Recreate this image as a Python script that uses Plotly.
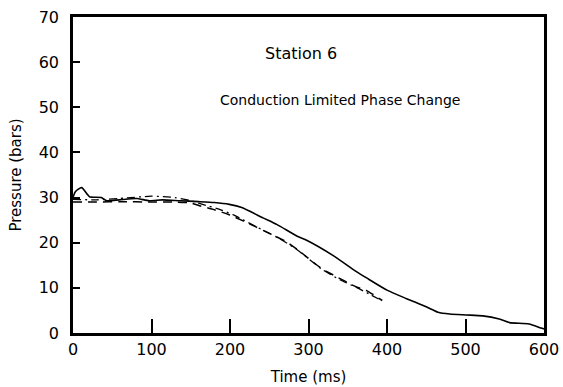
import plotly.graph_objects as go

# Solid curve (measured)
t_solid = [0, 3, 11, 21, 36, 43, 59, 81, 97, 114, 136, 160, 180, 199, 215, 242, 260, 285, 297, 331, 361, 374, 400, 425, 450, 465, 480, 501, 522, 543, 556, 581, 596, 600]
p_solid = [30.0, 31.3, 32.2, 30.2, 30.0, 29.3, 29.5, 29.8, 29.3, 29.5, 29.3, 29.1, 28.9, 28.5, 27.8, 25.5, 24.0, 21.5, 20.6, 17.2, 13.6, 12.2, 9.5, 7.6, 5.8, 4.6, 4.2, 4.0, 3.8, 3.1, 2.3, 2.0, 1.1, 0.9]

# Dashed curve
t_dash = [0, 30, 60, 100, 130, 150, 161, 180, 199, 233, 246, 272, 288, 318, 331, 361, 374, 394]
p_dash = [29.0, 29.0, 29.1, 29.0, 29.0, 28.8, 28.2, 27.3, 26.2, 23.5, 22.4, 20.2, 18.2, 14.1, 12.9, 10.2, 9.4, 7.2]

# Dash-dot curve
t_dashdot = [0, 30, 60, 100, 130, 150, 165, 185, 205, 235, 260, 285, 318, 340, 361, 380, 394]
p_dashdot = [29.6, 29.5, 29.8, 30.3, 30.0, 29.3, 28.5, 27.5, 26.1, 23.4, 21.2, 18.5, 14.0, 11.8, 10.1, 8.4, 7.1]

ticks_x = [0, 100, 200, 300, 400, 500, 600]
ticks_y = [0, 10, 20, 30, 40, 50, 60, 70]

fig = go.Figure()
fig.add_trace(go.Scatter(x=t_solid, y=p_solid, mode="lines",
                         line=dict(color="black", width=1.6, shape="spline", smoothing=0.6)))
fig.add_trace(go.Scatter(x=t_dash, y=p_dash, mode="lines",
                         line=dict(color="black", width=1.5, dash="9px,6px", shape="spline", smoothing=0.6)))
fig.add_trace(go.Scatter(x=t_dashdot, y=p_dashdot, mode="lines",
                         line=dict(color="black", width=1.3, dash="8px,4px,2px,4px", shape="spline", smoothing=0.6)))

font_family = "DejaVu Sans"
fig.update_layout(
    width=563, height=387,
    margin=dict(l=73, r=19, t=17, b=54, autoexpand=False),
    paper_bgcolor="white", plot_bgcolor="white",
    showlegend=False,
    font=dict(family=font_family, color="black", size=15),
    xaxis=dict(range=[0, 600], tickvals=ticks_x, ticks="inside", ticklen=14, tickwidth=1.5,
               tickcolor="black", showline=True, linecolor="black", linewidth=2.5, mirror=True,
               showgrid=False, zeroline=False, automargin=False,
               title=dict(text="Time (ms)", font=dict(size=15), standoff=14),
               tickfont=dict(size=16)),
    yaxis=dict(range=[0, 70], tickvals=ticks_y, ticks="inside", ticklen=7, tickwidth=1.5,
               tickcolor="black", showline=True, linecolor="black", linewidth=2.5, mirror=True,
               showgrid=False, zeroline=False, automargin=False, ticklabelstandoff=8,
               title=dict(text="Pressure (bars)", font=dict(size=15), standoff=14),
               tickfont=dict(size=16)),
    annotations=[
        dict(x=290, y=62, xref="x", yref="y", text="Station 6", showarrow=False,
             font=dict(size=16, family=font_family)),
        dict(x=340, y=51.7, xref="x", yref="y", text="Conduction Limited Phase Change", showarrow=False,
             font=dict(size=14, family=font_family)),
    ],
)

fig.write_html("out.html")
